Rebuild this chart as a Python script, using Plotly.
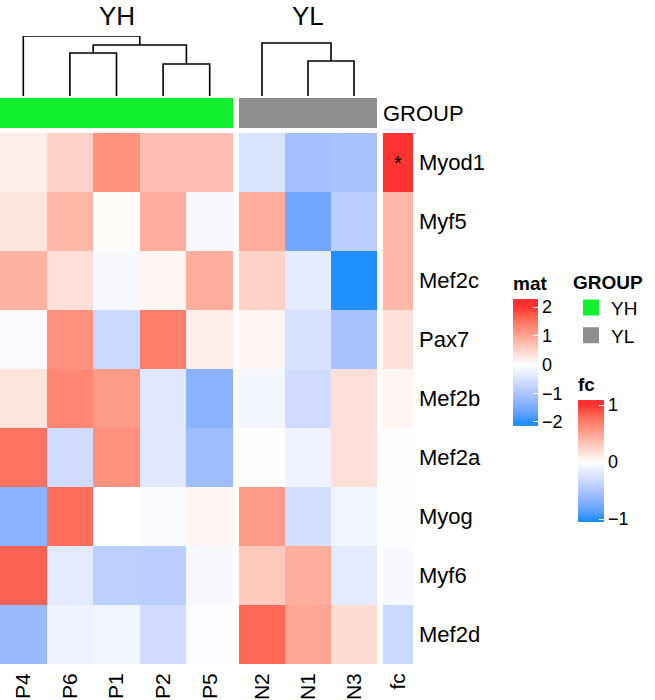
import numpy as np
import plotly.graph_objects as go

# ---------------- data ----------------
genes = ["Myod1", "Myf5", "Mef2c", "Pax7", "Mef2b", "Mef2a", "Myog", "Myf6", "Mef2d"]
cols_YH = ["P4", "P6", "P1", "P2", "P5"]
cols_YL = ["N2", "N1", "N3"]
group_names = ["YH", "YL"]

mat_YH = [
    [0.20, 0.50, 1.20, 0.70, 0.70],
    [0.30, 0.80, 0.05, 0.90, -0.10],
    [0.85, 0.35, -0.10, 0.10, 0.90],
    [-0.07, 1.20, -0.65, 1.40, 0.20],
    [0.30, 1.30, 1.10, -0.40, -1.35],
    [1.50, -0.60, 1.20, -0.40, -1.15],
    [-1.35, 1.55, 0.00, -0.08, 0.10],
    [1.65, -0.33, -0.82, -0.85, -0.10],
    [-1.20, -0.20, -0.17, -0.60, -0.05],
]
mat_YL = [
    [-0.45, -1.10, -1.05],
    [0.90, -1.55, -0.85],
    [0.50, -0.35, -2.00],
    [0.10, -0.50, -1.05],
    [-0.15, -0.60, 0.35],
    [-0.02, -0.20, 0.35],
    [1.10, -0.55, -0.17],
    [0.60, 0.90, -0.33],
    [1.60, 1.00, 0.40],
]
fc = [1.00, 0.40, 0.40, 0.17, 0.05, 0.00, 0.00, -0.05, -0.33]
fc_sig = ["*", "", "", "", "", "", "", "", ""]

# dendrograms: (left, right, height)
tree_YH = ("P4", (("P6", "P1", 4.3), ("P2", "P5", 3.2), 5.1), 6.0)
tree_YL = ("N2", ("N1", "N3", 3.5), 5.3)

mat_ticks = [-2, -1, 0, 1, 2]
fc_ticks = [-1, 0, 1]

# ---------------- styles ----------------
FONT = "Liberation Sans, Arial, Helvetica, sans-serif"
W, H = 655, 700
group_colors = {"YH": "#10F02C", "YL": "#8E8E8E"}
LOW, MID, HIGH = "#1E90FF", "#FFFFFF", "#FF3030"


def px_x(p):
    return p / W


def px_y(p):
    return 1 - p / H


# ---- LAB interpolation (like colorRamp2) ----
def _hex(h):
    h = h.lstrip("#")
    return np.array([int(h[i:i + 2], 16) / 255 for i in (0, 2, 4)])


M = np.array([[0.4124, 0.3576, 0.1805], [0.2126, 0.7152, 0.0722], [0.0193, 0.1192, 0.9505]])
WP = np.array([0.95047, 1.0, 1.08883])


def to_lab(rgb):
    lin = np.where(rgb <= 0.04045, rgb / 12.92, ((rgb + 0.055) / 1.055) ** 2.4)
    xyz = M @ lin / WP
    f = np.where(xyz > 0.008856, np.cbrt(xyz), 7.787 * xyz + 16 / 116)
    return np.array([116 * f[1] - 16, 500 * (f[0] - f[1]), 200 * (f[1] - f[2])])


def from_lab(lab):
    L, a, b = lab
    fy = (L + 16) / 116
    fx = fy + a / 500
    fz = fy - b / 200
    f = np.array([fx, fy, fz])
    xyz = np.where(f ** 3 > 0.008856, f ** 3, (f - 16 / 116) / 7.787) * WP
    lin = np.linalg.solve(M, xyz)
    lin = np.clip(lin, 0, 1)
    rgb = np.where(lin <= 0.0031308, 12.92 * lin, 1.055 * lin ** (1 / 2.4) - 0.055)
    rgb = np.clip(rgb, 0, 1)
    return "rgb(%d,%d,%d)" % tuple(np.round(rgb * 255))


def ramp(v, lim):
    v = max(-lim, min(lim, v))
    t = abs(v) / lim
    end = to_lab(_hex(LOW if v < 0 else HIGH))
    return from_lab(to_lab(_hex(MID)) * (1 - t) + end * t)


def scale(cmin, cmax, lim, n=61):
    out = []
    for p in np.linspace(0, 1, n):
        out.append([float(p), ramp(cmin + p * (cmax - cmin), lim)])
    return out


# colour bar extents (bar slightly longer than the break range, as in the reference)
MAT_MIN, MAT_MAX = -2.14, 2.28
FC_MIN, FC_MAX = -1.05, 1.09

fig = go.Figure()

# ---------------- heatmap body ----------------
fig.add_trace(go.Heatmap(z=mat_YH, x=list(range(len(cols_YH))), y=genes,
                         coloraxis="coloraxis", xaxis="x", yaxis="y", hoverinfo="skip"))
fig.add_trace(go.Heatmap(z=mat_YL, x=list(range(len(cols_YL))), y=genes,
                         coloraxis="coloraxis", xaxis="x2", yaxis="y", hoverinfo="skip"))
fig.add_trace(go.Heatmap(z=[[v] for v in fc], x=[0], y=genes, text=[[s] for s in fc_sig],
                         texttemplate="%{text}", textfont=dict(size=20, color="black", family=FONT),
                         coloraxis="coloraxis2", xaxis="x3", yaxis="y", hoverinfo="skip"))

# ---------------- group annotation bar ----------------
for cols, g, xa in [(cols_YH, "YH", "x"), (cols_YL, "YL", "x2")]:
    fig.add_trace(go.Heatmap(z=[[1] * len(cols)], x=list(range(len(cols))), y=["GROUP"],
                             colorscale=[[0, group_colors[g]], [1, group_colors[g]]],
                             showscale=False, xaxis=xa, yaxis="y2", hoverinfo="skip"))


# ---------------- dendrograms ----------------
def draw_tree(node, leaves, xa):
    xs, ys = [], []

    def rec(n):
        if isinstance(n, str):
            return float(leaves.index(n)), 0.0
        lx, lh = rec(n[0])
        rx, rh = rec(n[1])
        h = n[2]
        xs.extend([lx, lx, rx, rx, None])
        ys.extend([lh, h, h, rh, None])
        return (lx + rx) / 2, h

    rec(node)
    fig.add_trace(go.Scatter(x=xs, y=ys, mode="lines", line=dict(color="black", width=1.6),
                             xaxis=xa, yaxis="y3", showlegend=False, hoverinfo="skip"))


draw_tree(tree_YH, cols_YH, "x")
draw_tree(tree_YL, cols_YL, "x2")

# ---------------- GROUP legend entries ----------------
for g in group_names:
    fig.add_trace(go.Scatter(x=[None], y=[None], mode="markers", name=g,
                             marker=dict(symbol="square", size=16, color=group_colors[g]),
                             xaxis="x", yaxis="y3", showlegend=True))

# ---------------- layout ----------------
common_x = dict(showgrid=False, zeroline=False, showline=False, ticks="", automargin=False,
                tickangle=-90, tickfont=dict(size=21, family=FONT, color="black"),
                ticklabelstandoff=4, fixedrange=True)
common_y = dict(showgrid=False, zeroline=False, ticks="", ticklabelstandoff=5, automargin=False,
                tickfont=dict(size=22, family=FONT, color="black"))

fig.update_layout(
    width=W, height=H, margin=dict(l=0, r=0, t=0, b=0, autoexpand=False),
    paper_bgcolor="white", plot_bgcolor="white",
    font=dict(family=FONT, color="black"),
    xaxis=dict(domain=[px_x(0), px_x(233)], range=[-0.5, len(cols_YH) - 0.5], anchor="y",
               tickvals=list(range(len(cols_YH))), ticktext=cols_YH, **common_x),
    xaxis2=dict(domain=[px_x(239), px_x(377)], range=[-0.5, len(cols_YL) - 0.5], anchor="y",
                tickvals=list(range(len(cols_YL))), ticktext=cols_YL, **common_x),
    xaxis3=dict(domain=[px_x(383), px_x(413)], range=[-0.5, 0.5], anchor="y",
                tickvals=[0], ticktext=["fc"], **common_x),
    yaxis=dict(domain=[px_y(664), px_y(133)], autorange="reversed", side="right", anchor="x3",
               **common_y),
    yaxis2=dict(domain=[px_y(128), px_y(98)], side="right", anchor="x2", **common_y),
    yaxis3=dict(domain=[px_y(96), px_y(36)], range=[0, 6.0], visible=False),
    coloraxis=dict(
        cmin=MAT_MIN, cmax=MAT_MAX, colorscale=scale(MAT_MIN, MAT_MAX, 2.0),
        colorbar=dict(x=px_x(513), xanchor="left", y=px_y(273), yanchor="top",
                      lenmode="pixels", len=153, thickness=25, xpad=0, ypad=0, outlinewidth=0,
                      tickvals=mat_ticks, ticktext=[str(t).replace("-", "\u2212") for t in mat_ticks],
                      ticks="inside", ticklen=5, tickcolor="white", tickwidth=1,
                      tickfont=dict(size=18, family=FONT, color="black"),
                      title=dict(text="<b>mat</b>", side="top", font=dict(size=19, family=FONT)))),
    coloraxis2=dict(
        cmin=FC_MIN, cmax=FC_MAX, colorscale=scale(FC_MIN, FC_MAX, 1.0),
        colorbar=dict(x=px_x(578), xanchor="left", y=px_y(374), yanchor="top",
                      lenmode="pixels", len=148, thickness=26, xpad=0, ypad=0, outlinewidth=0,
                      tickvals=fc_ticks, ticktext=[str(t).replace("-", "\u2212") for t in fc_ticks],
                      ticks="inside", ticklen=5, tickcolor="white", tickwidth=1,
                      tickfont=dict(size=18, family=FONT, color="black"),
                      title=dict(text="<b>fc</b>", side="top", font=dict(size=19, family=FONT)))),
    legend=dict(x=px_x(571), xanchor="left", y=px_y(264), yanchor="top",
                title=dict(text="<b>GROUP</b>", font=dict(size=19, family=FONT)),
                font=dict(size=19, family=FONT), itemsizing="trace", tracegroupgap=0,
                bgcolor="rgba(0,0,0,0)"),
    showlegend=True,
)

# column-split titles
for g, xa in zip(group_names, ["x", "x2"]):
    fig.add_annotation(text=g, xref=xa + " domain", x=0.5, yref="paper", y=px_y(16),
                       xanchor="center", yanchor="middle", showarrow=False,
                       font=dict(size=26, family=FONT, color="black"))

fig.write_html("out.html", config={"displayModeBar": False},
               post_script="document.body.style.margin='0';document.body.style.padding='0';"
                           "window.dispatchEvent(new Event('resize'));")
